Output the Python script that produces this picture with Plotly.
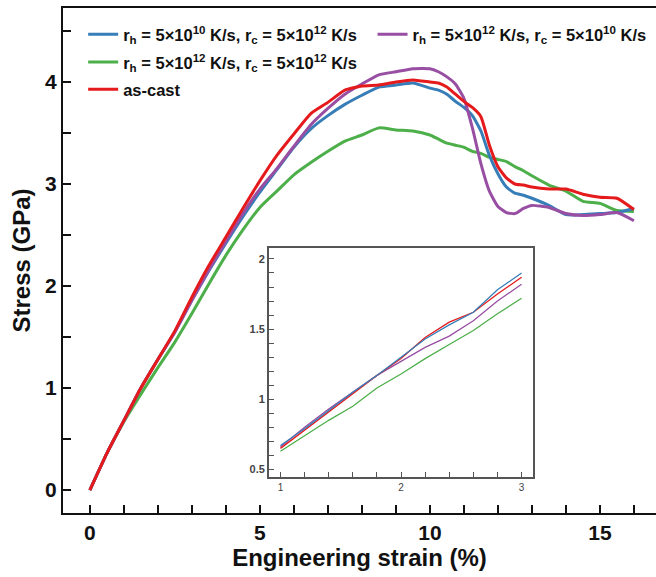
import plotly.graph_objects as go

# ---------------- data ----------------
strain = [0, 0.5, 1.0, 1.5, 2.0, 2.5, 3.0, 3.5, 4.0, 4.5, 5.0, 5.5, 6.0, 6.5, 7.0,
          7.5, 8.0, 8.5, 9.0, 9.5, 10.0, 10.25, 10.5, 10.75, 11.0, 11.25, 11.5,
          11.75, 12.0, 12.25, 12.5, 12.75, 13.0, 13.5, 14.0, 14.5, 15.0, 15.5, 16.0]

stress_blue = [0, 0.36, 0.68, 1.00, 1.28, 1.55, 1.86, 2.15, 2.42, 2.68, 2.92, 3.14,
               3.36, 3.54, 3.67, 3.78, 3.87, 3.95, 3.97, 3.99, 3.94, 3.92, 3.88,
               3.81, 3.75, 3.67, 3.52, 3.28, 3.10, 2.97, 2.91, 2.89, 2.86, 2.79,
               2.70, 2.70, 2.71, 2.72, 2.76]

stress_purple = [0, 0.36, 0.68, 1.00, 1.28, 1.55, 1.86, 2.16, 2.44, 2.71, 2.95, 3.15,
                 3.37, 3.58, 3.74, 3.88, 3.98, 4.07, 4.10, 4.13, 4.13, 4.10, 4.05,
                 3.98, 3.84, 3.55, 3.20, 2.93, 2.78, 2.72, 2.71, 2.76, 2.79, 2.77,
                 2.71, 2.69, 2.70, 2.72, 2.64]

stress_green = [0, 0.36, 0.67, 0.94, 1.20, 1.45, 1.73, 2.02, 2.30, 2.55, 2.77, 2.93,
                3.09, 3.21, 3.32, 3.42, 3.48, 3.55, 3.53, 3.52, 3.48, 3.44, 3.40,
                3.38, 3.36, 3.32, 3.30, 3.26, 3.24, 3.22, 3.17, 3.13, 3.08, 2.99,
                2.93, 2.83, 2.81, 2.74, 2.73]

stress_red = [0, 0.36, 0.68, 1.00, 1.28, 1.56, 1.89, 2.20, 2.48, 2.76, 3.03, 3.28,
              3.49, 3.69, 3.80, 3.92, 3.96, 3.97, 4.00, 4.02, 4.00, 3.99, 3.95,
              3.88, 3.81, 3.75, 3.66, 3.38, 3.17, 3.06, 3.00, 2.99, 2.97, 2.95,
              2.95, 2.90, 2.87, 2.86, 2.75]

inset_x = [1.0, 1.2, 1.4, 1.6, 1.8, 2.0, 2.2, 2.4, 2.6, 2.8, 3.0]
inset_blue = [0.67, 0.79, 0.92, 1.05, 1.17, 1.30, 1.43, 1.53, 1.62, 1.78, 1.90]
inset_red = [0.65, 0.78, 0.91, 1.04, 1.17, 1.29, 1.44, 1.55, 1.62, 1.75, 1.87]
inset_purple = [0.66, 0.80, 0.93, 1.05, 1.17, 1.27, 1.37, 1.45, 1.56, 1.70, 1.82]
inset_green = [0.63, 0.74, 0.85, 0.95, 1.08, 1.18, 1.29, 1.39, 1.49, 1.61, 1.72]

names = {
    "blue": "r<sub>h</sub> = 5×10<sup>10</sup> K/s, r<sub>c</sub> = 5×10<sup>12</sup> K/s",
    "purple": "r<sub>h</sub> = 5×10<sup>12</sup> K/s, r<sub>c</sub> = 5×10<sup>10</sup> K/s",
    "green": "r<sub>h</sub> = 5×10<sup>12</sup> K/s, r<sub>c</sub> = 5×10<sup>12</sup> K/s",
    "red": "as-cast",
}
colors = {"blue": "#377eb8", "purple": "#984ea3", "green": "#4daf4a", "red": "#e41a1c"}

FONT = "Liberation Sans, Arial, sans-serif"

fig = go.Figure()

main = [("green", stress_green, "legend3"), ("blue", stress_blue, "legend"),
        ("purple", stress_purple, "legend2"), ("red", stress_red, "legend4")]
for key, ys, lg in main:
    fig.add_trace(go.Scatter(x=strain, y=ys, mode="lines", name=names[key],
                             line=dict(color=colors[key], width=3,
                                       shape="spline", smoothing=0.5),
                             legend=lg, showlegend=True))

for key, ys in [("green", inset_green), ("purple", inset_purple),
                ("red", inset_red), ("blue", inset_blue)]:
    fig.add_trace(go.Scatter(x=inset_x, y=ys, mode="lines", xaxis="x2", yaxis="y2",
                             line=dict(color=colors[key], width=1.3),
                             showlegend=False, hoverinfo="skip"))

leg_font = dict(size=16.5, family=FONT, weight="bold", color="#111")


def leg(x, y):
    return dict(x=x, y=y, xanchor="left", yanchor="top",
                bgcolor="rgba(0,0,0,0)", font=leg_font, itemwidth=30)


fig.update_layout(
    width=656, height=577,
    margin=dict(l=63, r=0, t=8, b=64),
    paper_bgcolor="white", plot_bgcolor="white",
    font=dict(family=FONT, color="#111"),
    xaxis=dict(range=[-0.79, 16.65], showgrid=False, zeroline=False,
               showline=True, linecolor="#111", linewidth=2, mirror=True,
               ticks="inside", ticklen=8, tickwidth=1.5, tickcolor="#111",
               dtick=5, tick0=0,
               minor=dict(dtick=1, tick0=0, ticks="inside", ticklen=8,
                          tickwidth=1.5, tickcolor="#111"),
               tickfont=dict(size=21, family=FONT, weight="bold"),
               title=dict(text="Engineering strain (%)", standoff=4,
                          font=dict(size=24, family=FONT, weight="bold"))),
    yaxis=dict(range=[-0.225, 4.725], showgrid=False, zeroline=False,
               showline=True, linecolor="#111", linewidth=2,
               ticks="inside", ticklen=8, tickwidth=1.5, tickcolor="#111",
               dtick=1, tick0=0,
               minor=dict(dtick=0.5, tick0=0, ticks="inside", ticklen=8,
                          tickwidth=1.5, tickcolor="#111"),
               tickfont=dict(size=21, family=FONT, weight="bold"),
               title=dict(text="Stress (GPa)", standoff=8,
                          font=dict(size=24, family=FONT, weight="bold"))),
    xaxis2=dict(domain=[0.347, 0.793], anchor="y2", range=[0.903, 3.097],
                showgrid=False, zeroline=False, showline=True, mirror=True,
                linecolor="#555", linewidth=1.5,
                ticks="inside", ticklen=5, tickwidth=1, tickcolor="#555",
                dtick=1, tick0=0,
                minor=dict(dtick=0.2, tick0=0, ticks="inside", ticklen=5,
                           tickwidth=1, tickcolor="#555"),
                tickfont=dict(size=10, family=FONT, color="#444")),
    yaxis2=dict(domain=[0.071, 0.525], anchor="x2", range=[0.445, 2.079],
                showgrid=False, zeroline=False, showline=True, mirror=True,
                linecolor="#555", linewidth=1.5,
                ticks="inside", ticklen=5, tickwidth=1, tickcolor="#555",
                dtick=0.5, tick0=0,
                minor=dict(dtick=0.1, tick0=0, ticks="inside", ticklen=5,
                           tickwidth=1, tickcolor="#555"),
                tickfont=dict(size=11, family=FONT, color="#444", weight="bold")),
    legend=leg(0.034, 0.982),
    legend2=leg(0.522, 0.982),
    legend3=leg(0.034, 0.927),
    legend4=leg(0.034, 0.873),
)

fig.write_html("out.html", config={"displayModeBar": False},
               post_script="document.body.style.margin='0';document.body.style.overflow='hidden';")
